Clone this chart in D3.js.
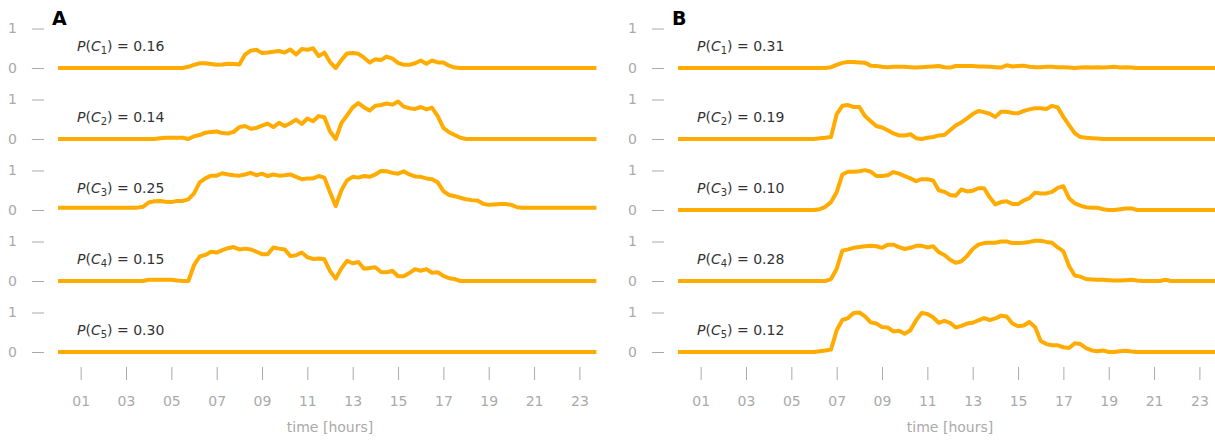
<!DOCTYPE html>
<html>
<head>
<meta charset="utf-8">
<script src="https://cdn.jsdelivr.net/npm/d3@7"></script>
<style>
  body { margin: 0; background: #fff; }
  svg { display: block; font-family: "DejaVu Sans", sans-serif; }
</style>
</head>
<body>
<div id="chart"></div>
<script>
// Quarter-hour time grid (0.00 .. 23.75 h)
const hours = d3.range(96).map(i => i / 4);

// x axis ticks
const tickHours = [1, 3, 5, 7, 9, 11, 13, 15, 17, 19, 21, 23];
const tickLabels = ["01", "03", "05", "07", "09", "11", "13", "15", "17", "19", "21", "23"];

// cluster probabilities shown in the annotations
const probsA = ["0.16", "0.14", "0.25", "0.15", "0.30"];
const probsB = ["0.31", "0.19", "0.10", "0.28", "0.12"];

// panel A, daily profiles per cluster
const a_c1 = [
  0,0,0,0,0,0,0,0, 0,0,0,0,0,0,0,0, 0,0,0,0,0,0,0,0.03,
  0.08,0.12,0.12,0.10,0.08,0.09,0.11,0.10, 0.09,0.34,0.44,0.46,0.38,0.39,0.41,0.43,
  0.39,0.47,0.34,0.48,0.46,0.50,0.30,0.39, 0.15,0.0,0.20,0.37,0.38,0.36,0.26,0.14,
  0.22,0.20,0.29,0.24,0.13,0.08,0.08,0.12, 0.19,0.11,0.19,0.14,0.14,0.06,0.01,0,
  0,0,0,0,0,0,0,0, 0,0,0,0,0,0,0,0, 0,0,0,0,0,0,0,0
];
const a_c2 = [
  0,0,0,0,0,0,0,0, 0,0,0,0,0,0,0,0, 0,0,0.02,0.03,0.03,0.03,0.03,0.0,
  0.07,0.10,0.16,0.18,0.19,0.15,0.14,0.18, 0.30,0.33,0.26,0.28,0.34,0.39,0.30,0.41,
  0.33,0.40,0.49,0.38,0.52,0.45,0.58,0.55, 0.19,0.0,0.40,0.60,0.80,0.91,0.80,0.72,
  0.84,0.86,0.90,0.87,0.95,0.82,0.78,0.76, 0.81,0.75,0.79,0.58,0.28,0.17,0.10,0.03,
  0,0,0,0,0,0,0,0, 0,0,0,0,0,0,0,0, 0,0,0,0,0,0,0,0
];
const a_c3 = [
  0.06,0.06,0.06,0.06,0.06,0.06,0.06,0.06, 0.06,0.06,0.06,0.06,0.06,0.06,0.06,0.08,
  0.19,0.22,0.23,0.21,0.20,0.23,0.23,0.27,
  0.42,0.70,0.80,0.87,0.87,0.93,0.90,0.88, 0.87,0.90,0.94,0.88,0.92,0.86,0.90,0.87,
  0.88,0.90,0.84,0.78,0.80,0.80,0.86,0.82, 0.45,0.10,0.50,0.75,0.84,0.82,0.86,0.84,
  0.90,0.99,0.98,0.94,0.92,0.98,0.90,0.85, 0.84,0.80,0.78,0.70,0.48,0.38,0.35,0.31,
  0.27,0.25,0.24,0.16,0.13,0.14,0.15,0.15, 0.13,0.07,0.06,0.06,0.06,0.06,0.06,0.06,
  0.06,0.06,0.06,0.06,0.06,0.06,0.06,0.06
];
const a_c4 = [
  0,0,0,0,0,0,0,0, 0,0,0,0,0,0,0,0, 0.03,0.03,0.03,0.03,0.03,0.01,0,0,
  0.40,0.62,0.66,0.74,0.72,0.78,0.83,0.86, 0.80,0.82,0.80,0.74,0.68,0.68,0.85,0.82,
  0.80,0.63,0.65,0.72,0.60,0.56,0.57,0.55, 0.25,0.06,0.32,0.51,0.45,0.48,0.31,0.33,
  0.35,0.23,0.22,0.26,0.12,0.12,0.20,0.30, 0.26,0.30,0.21,0.22,0.13,0.07,0.05,0,
  0,0,0,0,0,0,0,0, 0,0,0,0,0,0,0,0, 0,0,0,0,0,0,0,0
];
const a_c5 = [
  0,0,0,0,0,0,0,0, 0,0,0,0,0,0,0,0, 0,0,0,0,0,0,0,0,
  0,0,0,0,0,0,0,0, 0,0,0,0,0,0,0,0, 0,0,0,0,0,0,0,0,
  0,0,0,0,0,0,0,0, 0,0,0,0,0,0,0,0, 0,0,0,0,0,0,0,0,
  0,0,0,0,0,0,0,0, 0,0,0,0,0,0,0,0, 0,0,0,0,0,0,0,0
];

// panel B
const b_c1 = [
  0,0,0,0,0,0,0,0, 0,0,0,0,0,0,0,0, 0,0,0,0,0,0,0,0,
  0,0,0,0.02,0.08,0.13,0.15,0.15, 0.14,0.13,0.06,0.05,0.03,0.02,0.03,0.03,
  0.03,0.02,0.01,0.02,0.03,0.04,0.05,0.02, 0.01,0.05,0.05,0.05,0.05,0.04,0.04,0.03,
  0.02,0.01,0.07,0.04,0.05,0.06,0.03,0.02, 0.02,0.03,0.03,0.02,0.02,0.01,0.0,0.01,
  0.02,0.01,0.02,0.01,0.02,0.03,0.01,0.02, 0.01,0,0,0,0,0,0,0, 0,0,0,0,0,0,0,0
];
const b_c2 = [
  0,0,0,0,0,0,0,0, 0,0,0,0,0,0,0,0, 0,0,0,0,0,0,0,0,
  0,0.02,0.03,0.05,0.63,0.84,0.86,0.81, 0.81,0.58,0.45,0.33,0.29,0.22,0.14,0.09,
  0.09,0.12,0.02,0.0,0.03,0.05,0.09,0.10, 0.22,0.34,0.42,0.52,0.63,0.71,0.68,0.64,
  0.56,0.69,0.69,0.66,0.65,0.71,0.75,0.78, 0.78,0.76,0.84,0.80,0.56,0.35,0.15,0.05,
  0.03,0.02,0.01,0,0,0,0,0, 0,0,0,0,0,0,0,0, 0,0,0,0,0,0,0,0
];
const b_c3 = [
  0,0,0,0,0,0,0,0, 0,0,0,0,0,0,0,0, 0,0,0,0,0,0,0,0,
  0,0.02,0.08,0.20,0.45,0.90,0.97,0.97, 0.98,1.01,0.97,0.86,0.86,0.88,0.96,0.92,
  0.86,0.80,0.73,0.78,0.78,0.75,0.50,0.46, 0.38,0.36,0.52,0.47,0.49,0.55,0.55,0.32,
  0.14,0.20,0.22,0.15,0.15,0.24,0.30,0.44, 0.42,0.42,0.46,0.56,0.60,0.30,0.17,0.11,
  0.07,0.06,0.06,0.02,0,0,0.02,0.04, 0.04,0,0,0,0,0,0,0, 0,0,0,0,0,0,0,0
];
const b_c4 = [
  0,0,0,0,0,0,0,0, 0,0,0,0,0,0,0,0, 0,0,0,0,0,0,0,0,
  0,0,0,0.05,0.31,0.77,0.80,0.84, 0.86,0.88,0.89,0.88,0.84,0.92,0.92,0.86,
  0.81,0.84,0.89,0.89,0.85,0.88,0.73,0.66, 0.54,0.46,0.50,0.63,0.81,0.92,0.96,0.97,
  0.97,1.00,1.00,0.96,0.96,0.97,0.99,1.02, 1.02,0.99,0.97,0.85,0.75,0.38,0.14,0.11,
  0.05,0.04,0.03,0.03,0.02,0.01,0.01,0.02, 0.03,0.01,0,0,0,0,0.03,0, 0,0,0,0,0,0,0,0
];
const b_c5 = [
  0,0,0,0,0,0,0,0, 0,0,0,0,0,0,0,0, 0,0,0,0,0,0,0,0,
  0,0.02,0.04,0.06,0.55,0.81,0.86,0.99, 1.00,0.90,0.75,0.72,0.63,0.62,0.52,0.54,
  0.46,0.55,0.80,0.99,0.96,0.88,0.74,0.79, 0.74,0.62,0.66,0.72,0.74,0.80,0.86,0.81,
  0.85,0.92,0.90,0.72,0.65,0.67,0.76,0.63, 0.28,0.20,0.17,0.17,0.12,0.10,0.22,0.20,
  0.10,0.04,0.02,0.04,0,0,0.02,0.03, 0.01,0,0,0,0,0,0,0, 0,0,0,0,0,0,0,0
];

const panels = [
  { name: "A", x0: 58, series: [a_c1, a_c2, a_c3, a_c4, a_c5], probs: probsA },
  { name: "B", x0: 678, series: [b_c1, b_c2, b_c3, b_c4, b_c5], probs: probsB }
];

const width = 1215, height = 440;
const hourPx = 22.67;
const rowBase = 68, rowStep = 71, rowUnit = 39.5;
const lineColor = "#ffab00";
const grey = "#aaaaaa";

const svg = d3.select("#chart").append("svg")
  .attr("width", width)
  .attr("height", height);

panels.forEach(p => {
  const g = svg.append("g");
  const x = d3.scaleLinear().domain([0, 24]).range([p.x0, p.x0 + 24 * hourPx]);

  // panel letter
  g.append("text")
    .attr("x", p.x0 - 6)
    .attr("y", 24.5)
    .style("font-size", "19px")
    .style("font-weight", "bold")
    .style("fill", "#000")
    .text(p.name);

  p.series.forEach((vals, k) => {
    const base = rowBase + rowStep * k;
    const y = d3.scaleLinear().domain([0, 1]).range([base, base - rowUnit]);

    // y axis: just the 0 / 1 dashes
    const yAxis = g.append("g")
      .attr("transform", `translate(${p.x0 - 14},0)`)
      .call(d3.axisLeft(y).tickValues([0, 1]).tickFormat(d3.format("d")).tickSize(12).tickPadding(15));
    yAxis.select(".domain").remove();
    yAxis.selectAll("line").attr("stroke", grey);
    yAxis.selectAll("text")
      .style("font-family", "DejaVu Sans, sans-serif")
      .style("font-size", "14px")
      .attr("fill", grey);

    // the profile
    const line = d3.line()
      .x((d, i) => x(hours[i]))
      .y(d => y(d));

    g.append("path")
      .datum(vals)
      .attr("fill", "none")
      .attr("stroke", lineColor)
      .attr("stroke-width", 4)
      .attr("stroke-linejoin", "round")
      .attr("d", line);

    // annotation P(C_k) = p
    const t = g.append("text")
      .attr("x", p.x0 + 19)
      .attr("y", base - 17.5)
      .style("font-size", "14px")
      .style("fill", "#333");
    t.append("tspan").style("font-style", "italic").text("P");
    t.append("tspan").text("(");
    t.append("tspan").style("font-style", "italic").text("C");
    t.append("tspan").attr("dy", 3).style("font-size", "10px").text(k + 1);
    t.append("tspan").attr("dy", -3).text(")");
    t.append("tspan").text(" = " + p.probs[k]);
  });

  // x axis
  const xAxis = g.append("g")
    .attr("transform", "translate(0,367)")
    .call(d3.axisBottom(x).tickValues(tickHours)
      .tickFormat((d, i) => tickLabels[i]).tickSize(13).tickPadding(16));
  xAxis.select(".domain").remove();
  xAxis.selectAll("line").attr("stroke", grey);
  xAxis.selectAll("text")
    .style("font-family", "DejaVu Sans, sans-serif")
    .style("font-size", "14px")
    .attr("fill", grey);

  g.append("text")
    .attr("x", x(12))
    .attr("y", 432)
    .attr("text-anchor", "middle")
    .style("font-size", "14px")
    .style("fill", grey)
    .text("time [hours]");
});
</script>
</body>
</html>
